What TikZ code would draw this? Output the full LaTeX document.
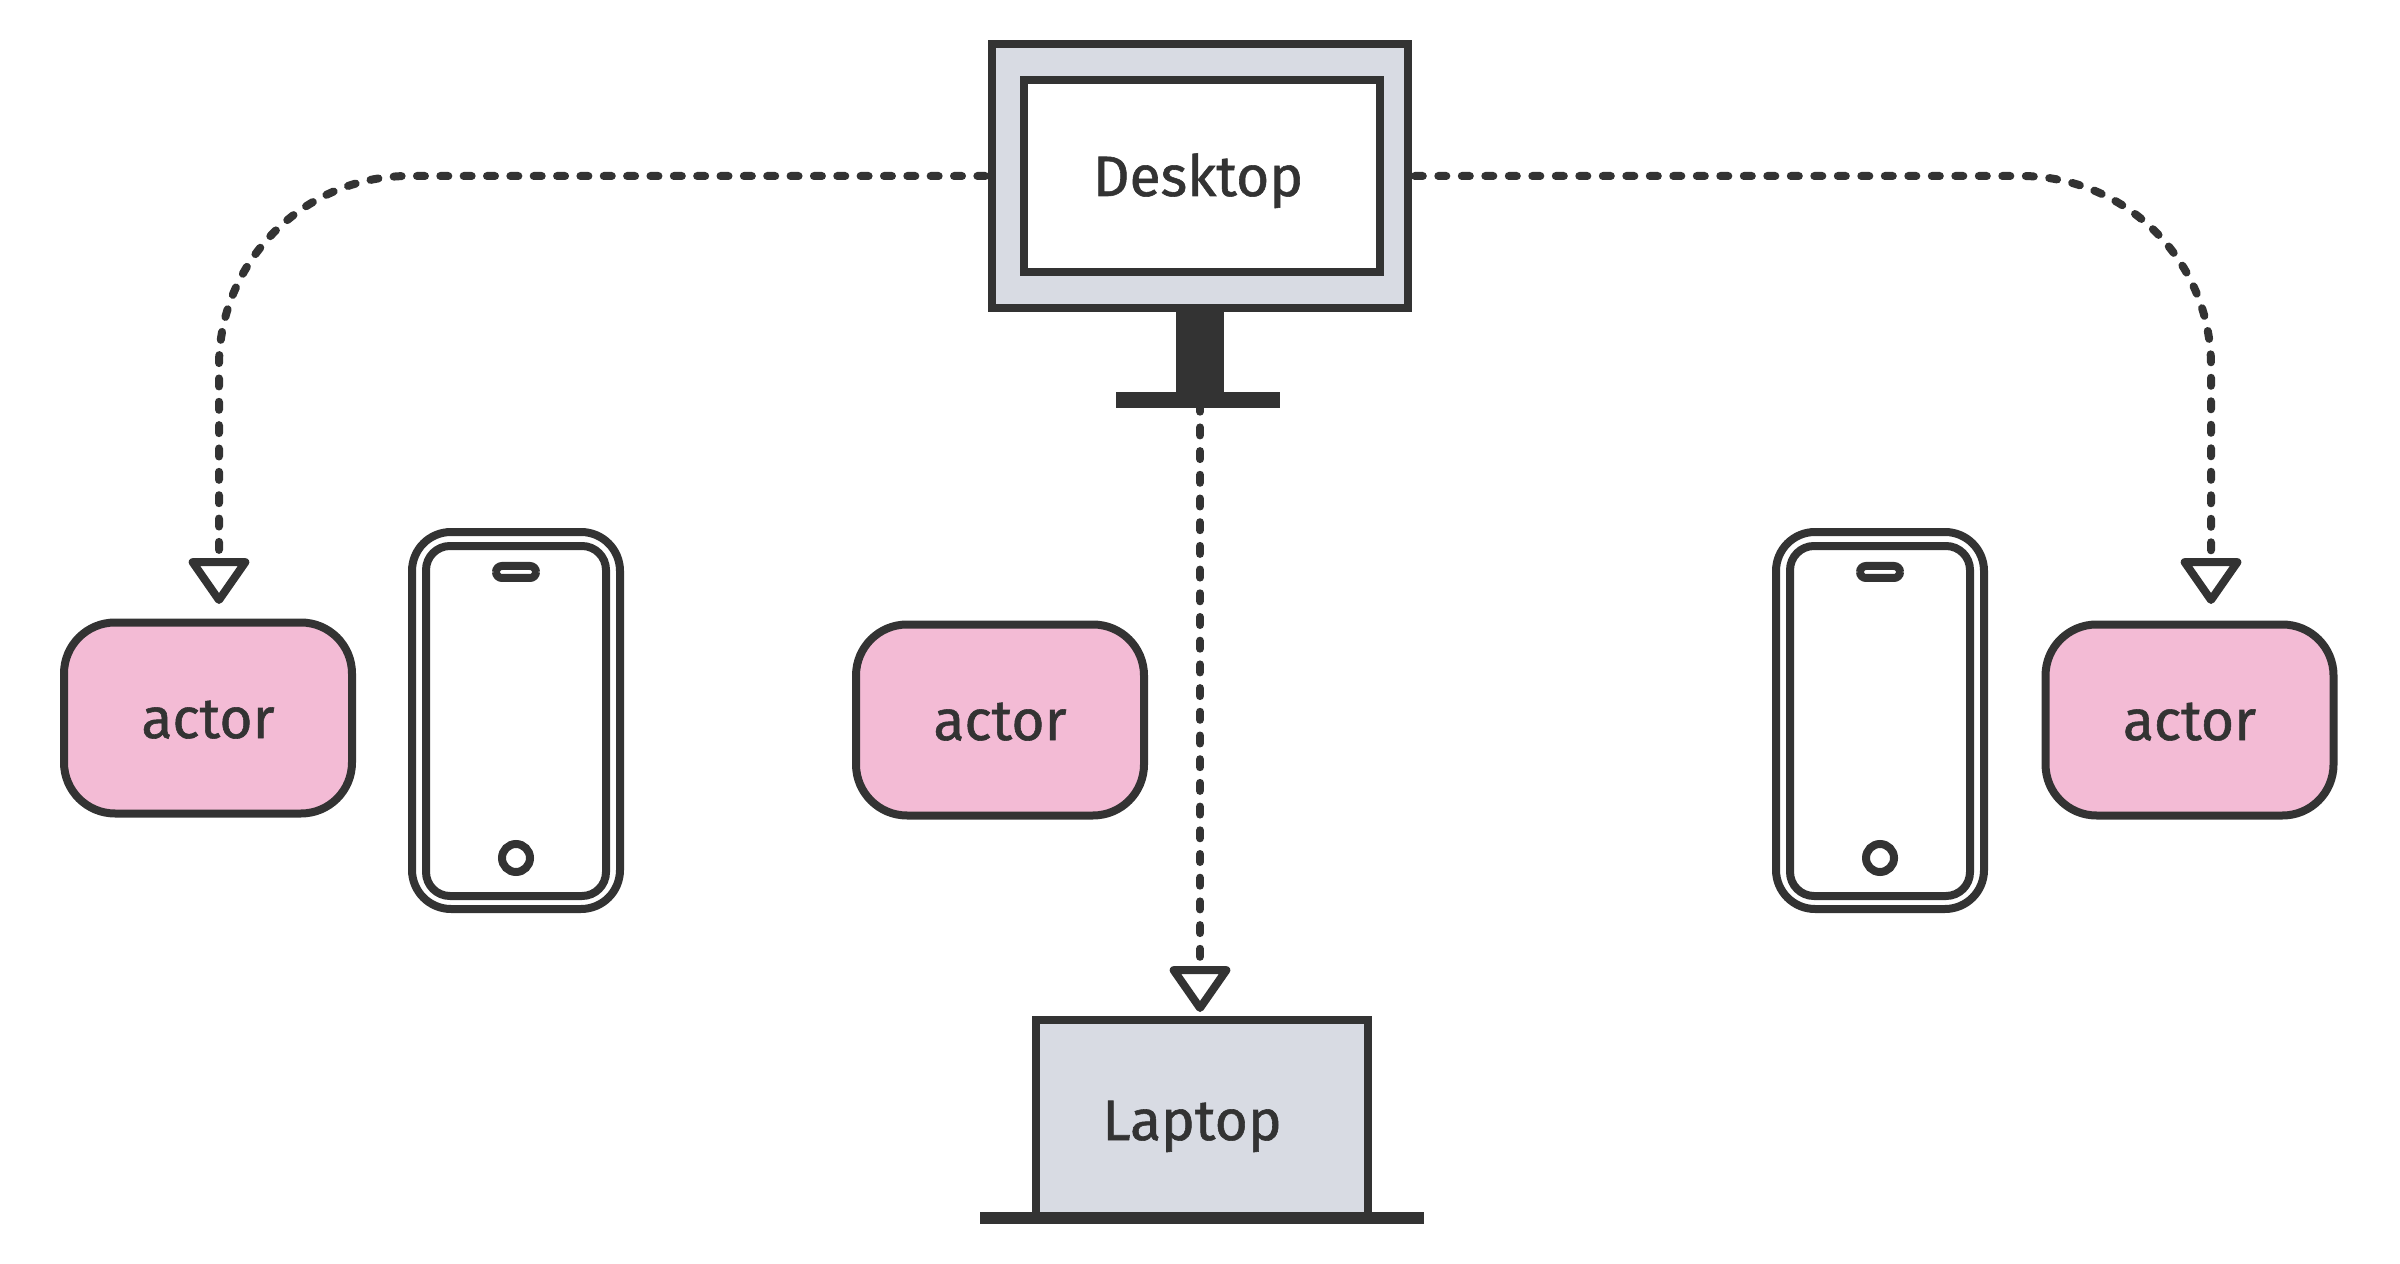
\documentclass[tikz,border=0pt]{standalone}
\usepackage{fontspec}
\setmainfont[FakeBold=1]{Fira Sans}
\usetikzlibrary{arrows.meta}
\definecolor{ink}{RGB}{51,51,51}
\definecolor{lgray}{RGB}{216,219,227}
\definecolor{lpink}{RGB}{243,187,213}
\tikzset{
  box/.style = {draw = ink, line width = 0.8mm, inner sep = 0, outer sep = 0.4mm, text = ink, font = \fontsize{16.2}{20}\selectfont, text height = 4mm, text depth = 0},
  actorbox/.style = {box, fill = lpink, rounded corners = 5.1mm, minimum width = 28.8mm, minimum height = 19.1mm},
  solid/.style = {fill = ink, inner sep = 0},
  phoneline/.style = {draw = ink, line width = 0.8mm, fill = white, inner sep = 0},
  link/.style = {draw = ink, line width = 0.8mm, line cap = round, line join = round, dash pattern = on 0.8mm off 1.57mm, dash phase = 2.07mm,
    -{Triangle[open, fill = white, length = 4.9mm, width = 6.6mm, round]}}
}
\begin{document}
\begin{tikzpicture}[x = 0.1mm, y = -0.1mm]
	\useasboundingbox (0,0) rectangle (2400,1264);
	% desktop
	\node (screen) at (1200,176) [box, fill = lgray, minimum width = 41.6mm, minimum height = 26.4mm] {};
	\node (desktop) at (1202,176) [box, fill = white, minimum width = 35.6mm, minimum height = 19.2mm] {Desktop\kern 0.8mm};
	\node (neck) at (1200,352) [solid, minimum width = 4.8mm, minimum height = 8mm] {};
	\node (stand) at (1198,400) [solid, minimum width = 16.4mm, minimum height = 1.6mm] {};
	% laptop
	\node (laptop) at (1202,1118) [box, fill = lgray, text height = 4.4mm, minimum width = 33.2mm, minimum height = 19.6mm] {Laptop\kern 2mm};
	\node (deck) at (1202,1218) [solid, minimum width = 44.4mm, minimum height = 1.2mm] {};
	% actors
	\node (actora) at (208,718) [actorbox] {actor};
	\node (actorb) at (1000,720) [actorbox] {actor};
	\node (actorc) at (2189.5,720) [actorbox] {actor};
	% phones
	\foreach \name/\x in {phonea/516, phoneb/1880} {
		\node (\name) at (\x,720.5) [phoneline, rounded corners = 3.9mm, minimum width = 20.8mm, minimum height = 37.7mm] {};
		\node (\name in) at (\x,721) [phoneline, rounded corners = 2.4mm, minimum width = 18mm, minimum height = 35mm] {};
		\node (\name top) at (\x,572) [phoneline, rounded corners = 0.6mm, minimum width = 4mm, minimum height = 1.2mm] {};
		\node (\name btn) at (\x,858) [phoneline, circle, minimum size = 2.8mm] {};
	}
	% links
	\coordinate (enda) at (219,604);
	\coordinate (endc) at (2211,604);
	\draw[link, dash pattern = on 0.8mm off 1.535mm, rounded corners = 19mm] (screen.west) -| (enda);
	\draw[link, dash pattern = on 0.8mm off 1.55mm, rounded corners = 19mm] (screen.east) -| (endc);
	\draw[link, dash phase = 1.27mm, shorten > = 0.4mm] (neck.south) -- (neck.south |- laptop.north);
\end{tikzpicture}
\end{document}
